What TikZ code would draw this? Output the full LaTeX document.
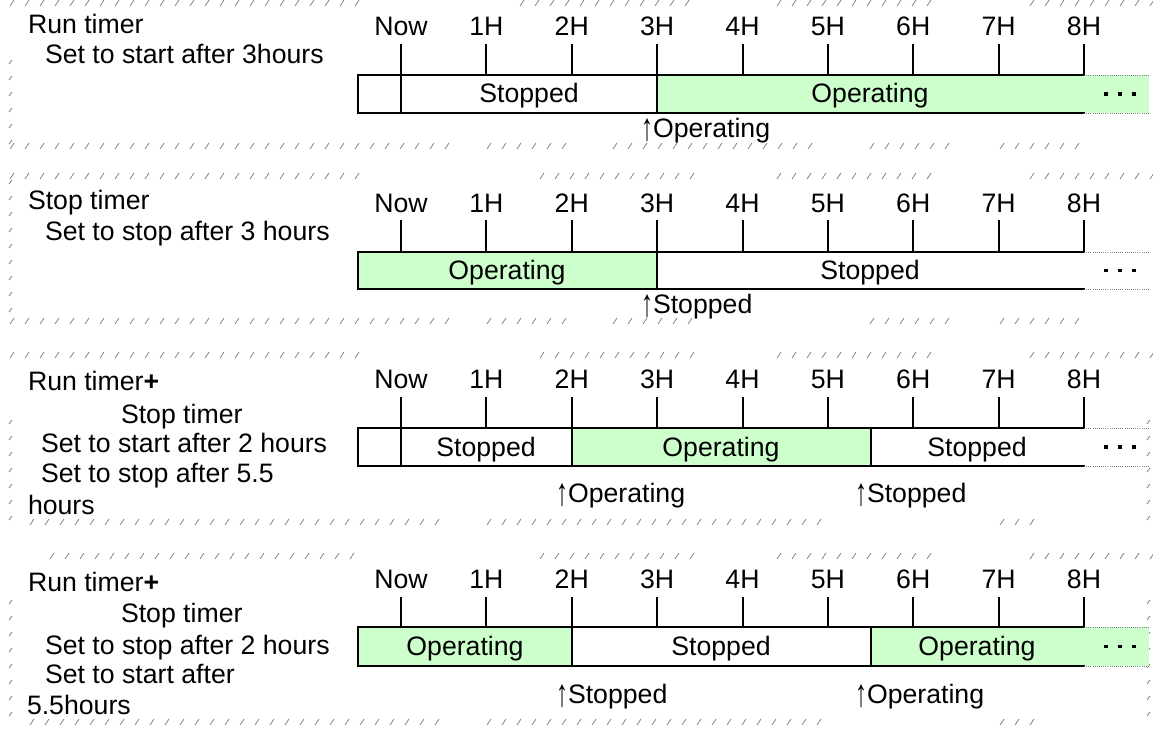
\documentclass[tikz,border=0pt]{standalone}
\usepackage{fontspec}
\usepackage{graphicx}
\setmainfont{Liberation Sans}
\definecolor{opgreen}{HTML}{CCFFCC}
\definecolor{hatchgray}{gray}{0.5}
\newcommand{\uparr}{\raisebox{-2.5pt}{\scalebox{0.9}[1.45]{↑}}}
\tikzset{
  txt/.style={inner sep=0pt, outer sep=0pt, font=\fontsize{20}{24}\selectfont},
  lbl/.style={txt, anchor=base west},
  ctr/.style={txt, anchor=base},
  barline/.style={line width=1.5pt, line cap=rect},
  tickline/.style={line width=1.5pt},
  dotext/.style={densely dotted, line width=0.6pt, gray},
  hatchmark/.style={hatchgray, line width=0.6pt},
}
% #1 name prefix, #2 label baseline, #3 tick top, #4 bar top
\newcommand{\tlticks}[4]{%
  \foreach \i/\t in {0/Now,1/1H,2/2H,3/3H,4/4H,5/5H,6/6H,7/7H,8/8H}{%
    \node[ctr] (#1t\i) at ({401+85.375*\i},#2) {\t};
    \draw[tickline] ({401+85.375*\i},#3) -- ({401+85.375*\i},#4);
  }%
}
% #1 bar top, #2 bar bottom
\newcommand{\tlframe}[2]{%
  \draw[barline] (1084,#1) -- (358,#1) -- (358,#2) -- (1084,#2);
  \draw[dotext] (1084,#1) -- (1149,#1);
  \draw[dotext] (1084,#2) -- (1149,#2);
  \foreach \dx in {1106,1120,1134}{%
    \fill ({\dx-1.9},{(#1+#2)/2-1.9}) rectangle ({\dx+1.9},{(#1+#2)/2+1.9});
  }%
}
\newcommand{\tldiv}[3]{\draw[barline] (#1,#2) -- (#1,#3);}
\begin{document}
\begin{tikzpicture}[x=0.75pt,y=-0.75pt]
\useasboundingbox (0,0) rectangle (1153,729);

% ---------- hatched frame artifacts ----------
\foreach \a/\b/\y in {10/355/3, 520/690/3, 777/940/3, 1030/1153/3,
                      10/445/146, 487/570/146, 613/820/146, 870/955/146, 1000/1085/146,
                      10/355/176, 540/690/176, 777/940/176, 1030/1153/176,
                      10/445/321, 487/570/321, 613/690/321, 870/955/321, 1000/1085/321,
                      10/355/355, 540/690/355, 777/940/355, 1030/1153/355,
                      30/445/522, 487/830/522, 1000/1030/522,
                      50/355/556, 540/690/556, 777/940/556, 1030/1153/556,
                      30/445/722, 487/830/722, 1000/1030/722}{%
  \pgfmathtruncatemacro\nmarks{(\b-\a)/15}
  \foreach \k in {0,...,\nmarks}{%
    \draw[hatchmark] ({\a+15*\k},{\y+3}) -- ++(4,-6);
  }
}
\foreach \x/\a/\b in {12/60/140, 12/180/318, 12/420/520, 12/600/720, 1150/420/520, 1150/600/725}{%
  \pgfmathtruncatemacro\nmarks{(\b-\a)/16}
  \foreach \k in {0,...,\nmarks}{%
    \draw[hatchmark] (\x,{\a+16*\k}) -- ++(-3,4);
  }
}

% ================= Panel 1 =================
\node[lbl] (p1a) at (28,33) {Run timer};
\node[lbl] (p1b) at (45,63) {Set to start after 3hours};
\fill[opgreen] (657,75) rectangle (1149,113);
\tlticks{p1}{35}{44}{75}
\tlframe{75}{113}
\tldiv{401}{75}{113}
\tldiv{657}{75}{113}
\node[ctr] (p1s1) at (529,102) {Stopped};
\node[ctr] (p1s2) at (870,102) {Operating};
\node[lbl] (p1m) at (641,137) {\uparr Operating};

% ================= Panel 2 =================
\node[lbl] (p2a) at (28,209) {Stop timer};
\node[lbl] (p2b) at (45,240) {Set to stop after 3 hours};
\fill[opgreen] (358,252) rectangle (657,289);
\tlticks{p2}{212}{220}{252}
\tlframe{252}{289}
\tldiv{657}{252}{289}
\node[ctr] (p2s1) at (507,279) {Operating};
\node[ctr] (p2s2) at (870,279) {Stopped};
\node[lbl] (p2m) at (641,313) {\uparr Stopped};

% ================= Panel 3 =================
\node[lbl] (p3a) at (28,390) {Run timer\textbf{+}};
\node[lbl] (p3b) at (121,423) {Stop timer};
\node[lbl] (p3c) at (41,452) {Set to start after 2 hours};
\node[lbl] (p3d) at (41,482) {Set to stop after 5.5};
\node[lbl] (p3e) at (28,514) {hours};
\fill[opgreen] (572,428) rectangle (870.6,466);
\tlticks{p3}{388}{397}{428}
\tlframe{428}{466}
\tldiv{401}{428}{466}
\tldiv{572}{428}{466}
\tldiv{870.6}{428}{466}
\node[ctr] (p3s1) at (486,456) {Stopped};
\node[ctr] (p3s2) at (721,456) {Operating};
\node[ctr] (p3s3) at (977,456) {Stopped};
\node[lbl] (p3m1) at (556,502) {\uparr Operating};
\node[lbl] (p3m2) at (855,502) {\uparr Stopped};

% ================= Panel 4 =================
\node[lbl] (p4a) at (28,591) {Run timer\textbf{+}};
\node[lbl] (p4b) at (121,622) {Stop timer};
\node[lbl] (p4c) at (45,654) {Set to stop after 2 hours};
\node[lbl] (p4d) at (45,683) {Set to start after};
\node[lbl] (p4e) at (27,714) {5.5hours};
\fill[opgreen] (358,627) rectangle (572,666);
\fill[opgreen] (870.6,627) rectangle (1149,666);
\tlticks{p4}{588}{597}{627}
\tlframe{627}{666}
\tldiv{572}{627}{666}
\tldiv{870.6}{627}{666}
\node[ctr] (p4s1) at (465,655) {Operating};
\node[ctr] (p4s2) at (721,655) {Stopped};
\node[ctr] (p4s3) at (977,655) {Operating};
\node[lbl] (p4m1) at (556,703) {\uparr Stopped};
\node[lbl] (p4m2) at (855,703) {\uparr Operating};
\end{tikzpicture}
\end{document}
